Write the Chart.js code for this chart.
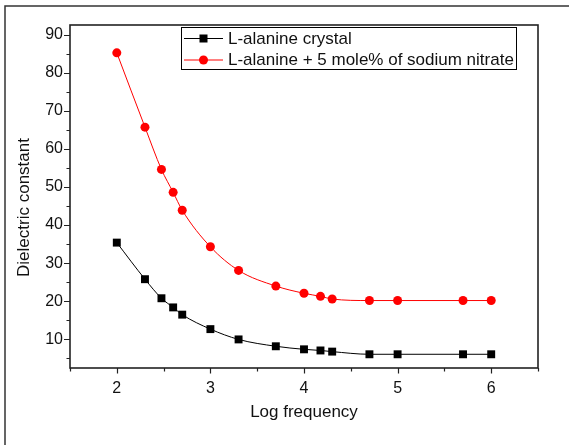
<!DOCTYPE html>
<html><head><meta charset="utf-8">
<script src="https://cdn.jsdelivr.net/npm/chart.js@4"></script>
<style>html,body{margin:0;padding:0;background:#fff;overflow:hidden}#wrap{width:569px;height:445px;position:relative}canvas{display:block}</style>
</head><body><div id="wrap"><canvas id="c" width="569" height="445"></canvas></div>
<script>
const logFrequency = [2, 2.301, 2.477, 2.602, 2.699, 3, 3.301, 3.699, 4, 4.176, 4.301, 4.699, 5, 5.699, 6];
const pureCrystal = [35.4, 25.8, 20.8, 18.4, 16.5, 12.7, 10.0, 8.2, 7.4, 7.1, 6.8, 6.1, 6.1, 6.1, 6.1];
const dopedCrystal = [85.2, 65.7, 54.6, 48.6, 43.9, 34.3, 28.1, 24.0, 22.1, 21.3, 20.6, 20.2, 20.2, 20.2, 20.2];
const seriesLabels = ['L-alanine crystal', 'L-alanine + 5 mole% of sodium nitrate'];
const xTickLabels = [2, 3, 4, 5, 6];
const yTickLabels = [10, 20, 30, 40, 50, 60, 70, 80, 90];
const xTitle = 'Log frequency';
const yTitle = 'Dielectric constant';

const FONT = "'Liberation Sans', Arial, sans-serif";

function pts(ys) { return logFrequency.map((x, i) => ({ x: x, y: ys[i] })); }

const decor = {
  id: 'decor',
  afterDraw(chart) {
    const ctx = chart.ctx, a = chart.chartArea;
    const xs = chart.scales.x, ys = chart.scales.y;
    ctx.save();
    // outer frame
    ctx.strokeStyle = '#333'; ctx.lineWidth = 1.5;
    ctx.beginPath(); ctx.moveTo(5, 445); ctx.lineTo(5, 6); ctx.lineTo(569, 6); ctx.stroke();
    // plot border
    ctx.strokeStyle = '#222'; ctx.lineWidth = 1.6;
    ctx.strokeRect(a.left, a.top, a.right - a.left, a.bottom - a.top);
    // ticks
    ctx.lineWidth = 1.2; ctx.beginPath();
    for (let v = 5; v <= 90; v += 5) {
      const y = Math.round(ys.getPixelForValue(v)) + 0.5;
      const len = (v % 10 === 0) ? 6 : 3.5;
      ctx.moveTo(a.left, y); ctx.lineTo(a.left - len, y);
    }
    for (let v = 1.5; v <= 6.5001; v += 0.5) {
      const x = Math.round(xs.getPixelForValue(v)) + 0.5;
      const len = (Math.abs(v - Math.round(v)) < 1e-6) ? 5.5 : 3.5;
      ctx.moveTo(x, a.bottom); ctx.lineTo(x, a.bottom + len);
    }
    ctx.stroke();
    // axis titles
    ctx.fillStyle = '#111'; ctx.font = '17px ' + FONT;
    ctx.textAlign = 'center'; ctx.textBaseline = 'middle';
    ctx.fillText(xTitle, (a.left + a.right) / 2, 412);
    ctx.save(); ctx.translate(24, 207.5); ctx.rotate(-Math.PI / 2);
    ctx.fillText(yTitle, 0, 0); ctx.restore();
    // legend
    const lx = 181.5, ly = 27.5, lw = 335, lh = 42;
    ctx.lineWidth = 1; ctx.strokeStyle = '#000';
    ctx.strokeRect(lx, ly, lw, lh);
    const rows = [38.5, 60];
    chart.data.datasets.forEach((ds, i) => {
      const y = rows[i];
      ctx.strokeStyle = ds.borderColor; ctx.lineWidth = 1;
      ctx.beginPath(); ctx.moveTo(184, y); ctx.lineTo(223, y); ctx.stroke();
      ctx.fillStyle = ds.pointBackgroundColor;
      if (ds.pointStyle === 'rect') { ctx.fillRect(203.5 - 4, y - 4, 8, 8); }
      else { ctx.beginPath(); ctx.arc(203.5, y, 4.5, 0, Math.PI * 2); ctx.fill(); }
      ctx.fillStyle = '#111'; ctx.font = '17px ' + FONT;
      ctx.textAlign = 'left'; ctx.textBaseline = 'middle';
      ctx.fillText(ds.label, 228, y + 0.5);
    });
    ctx.restore();
  }
};

new Chart(document.getElementById('c'), {
  type: 'line',
  data: {
    datasets: [
      { label: seriesLabels[0], data: pts(pureCrystal), borderColor: '#000', backgroundColor: '#000',
        pointBackgroundColor: '#000', pointBorderColor: '#000', pointStyle: 'rect', pointRadius: 5.6,
        borderWidth: 1, pointBorderWidth: 0, cubicInterpolationMode: 'monotone' },
      { label: seriesLabels[1], data: pts(dopedCrystal), borderColor: '#ff0000', backgroundColor: '#ff0000',
        pointBackgroundColor: '#ff0000', pointBorderColor: '#ff0000', pointStyle: 'circle', pointRadius: 4.5,
        borderWidth: 1, pointBorderWidth: 0, cubicInterpolationMode: 'monotone' }
    ]
  },
  options: {
    responsive: false, animation: false, devicePixelRatio: 1,
    layout: { padding: { left: 0, top: 25, right: 31, bottom: 0 } },
    plugins: { legend: { display: false }, tooltip: { enabled: false } },
    scales: {
      x: {
        type: 'linear', min: 1.5, max: 6.5,
        grid: { display: false, drawTicks: false }, border: { display: false },
        afterFit(s) { s.height = 77; },
        afterBuildTicks(s) { s.ticks = xTickLabels.map(v => ({ value: v })); },
        ticks: { padding: 11, color: '#111', font: { family: FONT, size: 16 }, maxRotation: 0,
          callback: v => String(v) }
      },
      y: {
        type: 'linear', min: 2.5, max: 92.5,
        grid: { display: false, drawTicks: false }, border: { display: false },
        afterFit(s) { s.width = 70; },
        afterBuildTicks(s) { s.ticks = yTickLabels.map(v => ({ value: v })); },
        ticks: { padding: 7, color: '#111', font: { family: FONT, size: 16 },
          callback: v => String(v) }
      }
    }
  },
  plugins: [decor]
});
</script>
</body></html>
